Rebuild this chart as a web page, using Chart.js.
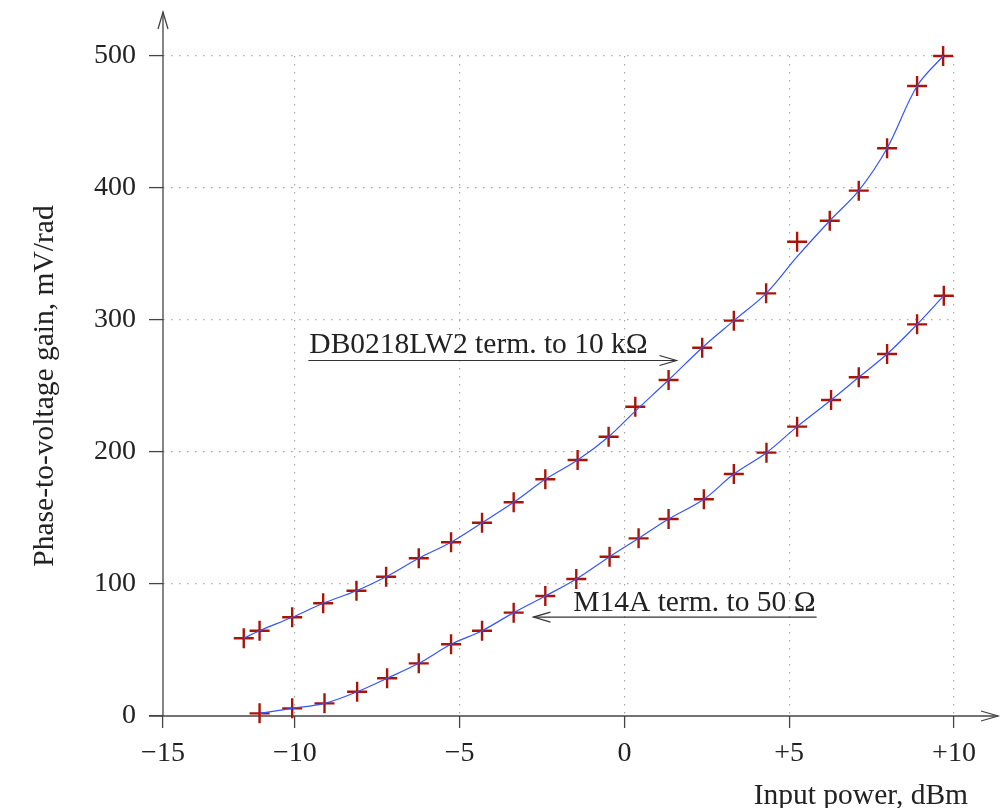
<!DOCTYPE html>
<html>
<head>
<meta charset="utf-8">
<script src="https://cdn.jsdelivr.net/npm/chart.js@4.4.1/dist/chart.umd.min.js"></script>
<style>
  html, body { margin: 0; padding: 0; background: #fff; }
  #wrap { width: 1003px; height: 808px; }
</style>
</head>
<body>
<div id="wrap"><canvas id="chart" width="1003" height="808"></canvas></div>
<script>
// DB0218LW2 terminated to 10 kOhm (measured points and the drawn curve)
const UPPER_X = [-11.55, -11.07, -10.08, -9.14, -8.13, -7.23, -6.24, -5.26, -4.32, -3.36, -2.40, -1.42,
  -0.48, 0.33, 1.34, 2.36, 3.32, 4.30, 5.24, 6.23, 7.11, 7.97, 8.88, 9.67];
const UPPER_Y = [58.9, 64.6, 74.8, 85.4, 94.9, 105.5, 119.5, 131.6, 146.4, 161.9, 179.3, 193.9,
  211.6, 234.3, 254.5, 279.0, 299.5, 320.2, 359.3, 375.2, 398.0, 430.1, 477.3, 500];
const UPPER_CURVE_Y = [58.9, 64.6, 74.8, 85.4, 94.9, 105.5, 119.5, 131.6, 146.4, 161.9, 179.3, 193.9,
  211.6, 231, 254.5, 279.0, 299.5, 320.2, 348, 375.2, 398.0, 430.1, 477.3, 500];

// M14A terminated to 50 Ohm
const LOWER_X = [-11.07, -10.08, -9.10, -8.11, -7.20, -6.24, -5.26, -4.32, -3.36, -2.40, -1.46, -0.45,
  0.43, 1.34, 2.41, 3.32, 4.31, 5.24, 6.27, 7.11, 7.97, 8.88, 9.69];
const LOWER_Y = [2.0, 5.8, 9.6, 18.4, 28.6, 39.9, 54.3, 64.6, 78.3, 90.9, 103.8, 120.7,
  134.6, 149.2, 164.2, 183.3, 199.5, 219.2, 239.4, 256.6, 274.2, 296.7, 318.4];

const X_TICKS = [-14, -10, -5, 0, 5, 10];
const X_TICK_LABELS = ["\u221215", "\u221210", "\u22125", "0", "+5", "+10"];
const Y_TICKS = [0, 100, 200, 300, 400, 500];

const FONT = "Liberation Serif";
const TEXT = "#222";
const AXIS = "#444";
const CURVE = "#3355ff";
const MARK = "#aa1408";

function pts(xs, ys) {
  return xs.map((x, i) => ({ x, y: ys[i] }));
}

function arrowHead(ctx, x, y, dir) {
  // open "->" head; dir: "right", "left", "up"
  const len = 17, half = 5;
  ctx.beginPath();
  if (dir === "right") {
    ctx.moveTo(x - len, y - half); ctx.lineTo(x, y); ctx.lineTo(x - len, y + half);
  } else if (dir === "left") {
    ctx.moveTo(x + len, y - half); ctx.lineTo(x, y); ctx.lineTo(x + len, y + half);
  } else {
    ctx.moveTo(x - half, y + len); ctx.lineTo(x, y); ctx.lineTo(x + half, y + len);
  }
  ctx.stroke();
}

function hline(ctx, x1, x2, y) {
  ctx.beginPath();
  ctx.moveTo(x1, y);
  ctx.lineTo(x2, y);
  ctx.stroke();
}

const decor = {
  id: "decor",
  beforeDatasetsDraw(chart) {
    const { ctx, chartArea } = chart;
    const { left, bottom } = chartArea;
    ctx.save();
    ctx.strokeStyle = AXIS;
    ctx.lineWidth = 1.3;
    hline(ctx, left - 14, 998, bottom);
    arrowHead(ctx, 998, bottom, "right");
    ctx.beginPath();
    ctx.moveTo(left, bottom);
    ctx.lineTo(left, 12);
    ctx.stroke();
    arrowHead(ctx, left, 12, "up");
    ctx.restore();
  },
  afterDraw(chart) {
    const { ctx } = chart;
    const xs = chart.scales.x;
    const ys = chart.scales.y;
    ctx.save();
    ctx.font = `29.5px "${FONT}"`;
    ctx.fillStyle = TEXT;
    ctx.strokeStyle = "#333";
    ctx.lineWidth = 1.2;
    ctx.textBaseline = "alphabetic";

    // DB0218LW2 label with arrow pointing right to the upper curve
    const dbX = xs.getPixelForValue(-9.56);
    const dbTip = xs.getPixelForValue(1.58);
    const dbY = ys.getPixelForValue(275);
    ctx.textAlign = "left";
    ctx.fillText("DB0218LW2 term. to 10 k\u03A9", dbX, dbY);
    hline(ctx, dbX - 1, dbTip, dbY + 7.5);
    arrowHead(ctx, dbTip, dbY + 7.5, "right");

    // M14A label with arrow pointing left to the lower curve
    const mEnd = xs.getPixelForValue(5.80);
    const mTip = xs.getPixelForValue(-2.76);
    const mY = ys.getPixelForValue(79.5);
    ctx.textAlign = "right";
    ctx.fillText("M14A term. to 50 \u03A9", mEnd, mY);
    hline(ctx, mTip, mEnd + 1, mY + 6);
    arrowHead(ctx, mTip, mY + 6, "left");

    // x axis title, right aligned below the axis end
    ctx.textAlign = "right";
    ctx.fillText("Input power, dBm", 968, 804);
    ctx.restore();
  },
};

const ctx = document.getElementById("chart");
new Chart(ctx, {
  type: "scatter",
  data: {
    datasets: [
      {
        label: "DB0218LW2 curve",
        data: pts(UPPER_X, UPPER_CURVE_Y),
        showLine: true,
        borderColor: CURVE,
        borderWidth: 1.2,
        pointRadius: 0,
        tension: 0.35,
        clip: false,
      },
      {
        label: "M14A curve",
        data: pts(LOWER_X, LOWER_Y),
        showLine: true,
        borderColor: CURVE,
        borderWidth: 1.2,
        pointRadius: 0,
        tension: 0.35,
        clip: false,
      },
      {
        label: "DB0218LW2",
        data: pts(UPPER_X, UPPER_Y),
        showLine: false,
        pointStyle: "cross",
        pointRadius: 10,
        pointBorderWidth: 2.4,
        pointBorderColor: MARK,
        pointBackgroundColor: MARK,
        clip: false,
      },
      {
        label: "M14A",
        data: pts(LOWER_X, LOWER_Y),
        showLine: false,
        pointStyle: "cross",
        pointRadius: 10,
        pointBorderWidth: 2.4,
        pointBorderColor: MARK,
        pointBackgroundColor: MARK,
        clip: false,
      },
    ],
  },
  options: {
    responsive: false,
    animation: false,
    devicePixelRatio: 1,
    layout: { padding: { left: 0, right: 49, top: 56, bottom: 0 } },
    plugins: {
      legend: { display: false },
      tooltip: { enabled: false },
    },
    scales: {
      x: {
        type: "linear",
        min: -14,
        max: 10,
        afterBuildTicks: (s) => {
          s.ticks = X_TICKS.map((v) => ({ value: v }));
        },
        afterFit: (s) => {
          s.height = 92;
        },
        ticks: {
          autoSkip: false,
          maxRotation: 0,
          padding: 9,
          color: TEXT,
          font: { family: FONT, size: 28 },
          callback: (v) => X_TICK_LABELS[X_TICKS.indexOf(v)],
        },
        grid: {
          color: (c) => (c.tick && c.tick.value === -14 ? "rgba(0,0,0,0)" : "#a8a8a8"),
          lineWidth: 1.2,
          tickLength: 12,
          tickColor: AXIS,
          tickWidth: 1.3,
          tickBorderDash: [],
        },
        border: { display: false, dash: [1.5, 6.5] },
      },
      y: {
        type: "linear",
        min: 0,
        max: 500,
        afterBuildTicks: (s) => {
          s.ticks = Y_TICKS.map((v) => ({ value: v }));
        },
        afterFit: (s) => {
          s.width = 163;
        },
        ticks: {
          padding: 13,
          color: TEXT,
          font: { family: FONT, size: 28 },
          callback: (v) => String(v),
        },
        grid: {
          color: (c) => (c.tick && c.tick.value === 0 ? "rgba(0,0,0,0)" : "#a8a8a8"),
          lineWidth: 1.2,
          tickLength: 14,
          tickColor: AXIS,
          tickWidth: 1.3,
          tickBorderDash: [],
        },
        border: { display: false, dash: [1.5, 6.5] },
        title: {
          display: true,
          text: "Phase-to-voltage gain, mV/rad",
          color: TEXT,
          font: { family: FONT, size: 29.5 },
          padding: { top: 28, bottom: 0 },
        },
      },
    },
  },
  plugins: [decor],
});
</script>
</body>
</html>
